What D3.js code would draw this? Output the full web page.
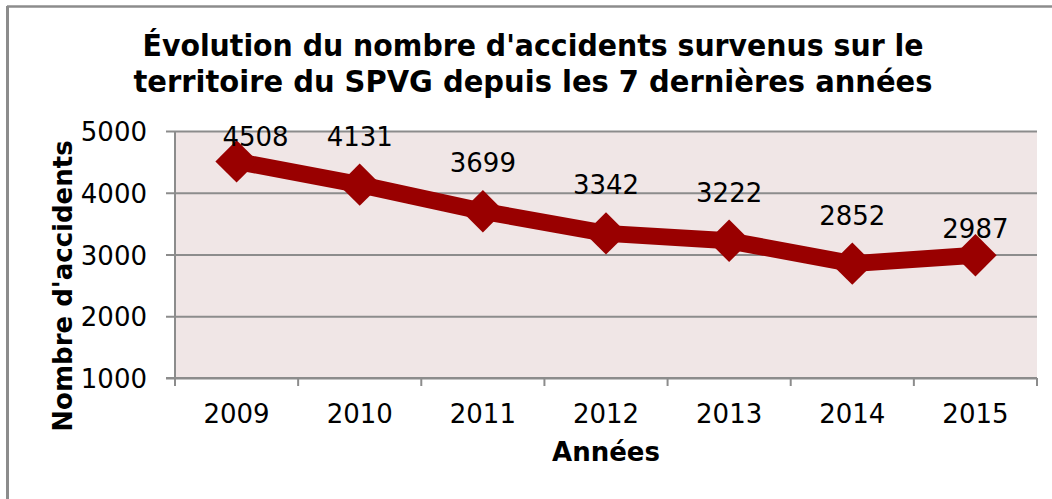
<!DOCTYPE html>
<html>
<head>
<meta charset="utf-8">
<script src="https://cdn.jsdelivr.net/npm/d3@7"></script>
<style>
  body { margin: 0; background: #fff; }
  text { font-family: "DejaVu Sans", Verdana, sans-serif; fill: #000; }
</style>
</head>
<body>
<svg id="chart" width="1052" height="499"></svg>
<script>
// data
let years = ["2009", "2010", "2011", "2012", "2013", "2014", "2015"];
let accidents = [4508, 4131, 3699, 3342, 3222, 2852, 2987];
let y_ticks = [1000, 2000, 3000, 4000, 5000];
let title_lines = ["Évolution du nombre d'accidents survenus sur le",
                   "territoire du SPVG depuis les 7 dernières années"];

let width = 1052,
    height = 499,
    plot = {left: 175, right: 1037, top: 131, bottom: 378},
    grey = "#8c8c8c",
    red = "#990000";

let svg = d3.select("#chart");

// outer frame (only top and left edges are visible)
svg.append("line")
  .attr("x1", 7).attr("x2", width).attr("y1", 6.5).attr("y2", 6.5)
  .attr("stroke", grey).attr("stroke-width", 2.5);
svg.append("line")
  .attr("x1", 7.5).attr("x2", 7.5).attr("y1", 6).attr("y2", height)
  .attr("stroke", grey).attr("stroke-width", 3);

let x = d3.scaleBand()
  .domain(years)
  .range([plot.left, plot.right]);

let y = d3.scaleLinear()
  .domain([1000, 5000])
  .range([plot.bottom, plot.top]);

// plot background
svg.append("rect")
  .attr("x", plot.left).attr("y", plot.top)
  .attr("width", plot.right - plot.left)
  .attr("height", plot.bottom - plot.top)
  .attr("fill", "#f0e6e6");

// y axis with gridlines
let y_axis = svg.append("g")
  .attr("transform", `translate(${plot.left},0)`)
  .call(d3.axisLeft(y)
    .tickValues(y_ticks)
    .tickSize(-(plot.right - plot.left))
    .tickPadding(20)
    .tickFormat(d3.format("d")));
y_axis.select(".domain").remove();
y_axis.selectAll(".tick line")
  .attr("x1", -9)
  .attr("stroke", grey)
  .attr("stroke-width", 2);
y_axis.selectAll(".tick text")
  .attr("dy", null)
  .attr("y", 9.5)
  .attr("x", -28)
  .style("font-size", "26px")
  .style("font-family", '"DejaVu Sans", Verdana, sans-serif');

svg.append("line")
  .attr("x1", plot.left).attr("x2", plot.left)
  .attr("y1", plot.top).attr("y2", plot.bottom + 8)
  .attr("stroke", grey).attr("stroke-width", 2);

// x axis
let x_axis = svg.append("g")
  .attr("transform", `translate(0,${plot.bottom})`)
  .call(d3.axisBottom(x).tickSize(0).tickPadding(0));
x_axis.select(".domain").remove();
x_axis.selectAll(".tick text")
  .attr("dy", null)
  .attr("y", 45)
  .style("font-size", "26px")
  .style("font-family", '"DejaVu Sans", Verdana, sans-serif');

svg.append("line")
  .attr("x1", plot.left - 9).attr("x2", plot.right)
  .attr("y1", plot.bottom).attr("y2", plot.bottom)
  .attr("stroke", grey).attr("stroke-width", 2);

// category boundary ticks
svg.append("g")
  .selectAll("line")
  .data(years.concat(["end"])).enter()
  .append("line")
  .attr("x1", (d, i) => plot.left + i * x.step())
  .attr("x2", (d, i) => plot.left + i * x.step())
  .attr("y1", plot.bottom)
  .attr("y2", plot.bottom + 8)
  .attr("stroke", grey)
  .attr("stroke-width", 2);

// series line
let line = d3.line()
  .x((d, i) => x(years[i]) + x.bandwidth() / 2)
  .y(d => y(d));

svg.append("path")
  .datum(accidents)
  .attr("d", line)
  .attr("fill", "none")
  .attr("stroke", red)
  .attr("stroke-width", 17)
  .attr("stroke-linejoin", "round");

// diamond markers
let diamond = d3.symbol().type(d3.symbolSquare).size(900);
svg.append("g")
  .selectAll("path")
  .data(accidents).enter()
  .append("path")
  .attr("d", diamond)
  .attr("transform", (d, i) => `translate(${x(years[i]) + x.bandwidth() / 2},${y(d)}) rotate(45)`)
  .attr("fill", red);

// data labels (first and last were nudged in the original)
function label_shift(i) {
  if (i === 0) return [19, -15];
  if (i === accidents.length - 1) return [0, -17];
  return [0, -39];
}

svg.append("g")
  .selectAll("text")
  .data(accidents).enter()
  .append("text")
  .attr("x", (d, i) => x(years[i]) + x.bandwidth() / 2 + label_shift(i)[0])
  .attr("y", (d, i) => y(d) + label_shift(i)[1])
  .attr("text-anchor", "middle")
  .style("font-size", "26px")
  .text(d => d);

// titles
svg.append("g")
  .selectAll("text")
  .data(title_lines).enter()
  .append("text")
  .attr("x", 533)
  .attr("y", (d, i) => 56 + i * 35.5)
  .attr("text-anchor", "middle")
  .attr("textLength", (d, i) => i === 0 ? 781 : 799)
  .attr("lengthAdjust", "spacingAndGlyphs")
  .style("font-size", "30px")
  .style("font-weight", "bold")
  .text(d => d);

svg.append("text")
  .attr("transform", "translate(72,286) rotate(-90)")
  .attr("text-anchor", "middle")
  .style("font-size", "26px")
  .style("font-weight", "bold")
  .text("Nombre d'accidents");

svg.append("text")
  .attr("x", 606)
  .attr("y", 461)
  .attr("text-anchor", "middle")
  .style("font-size", "26px")
  .style("font-weight", "bold")
  .text("Années");
</script>
</body>
</html>
